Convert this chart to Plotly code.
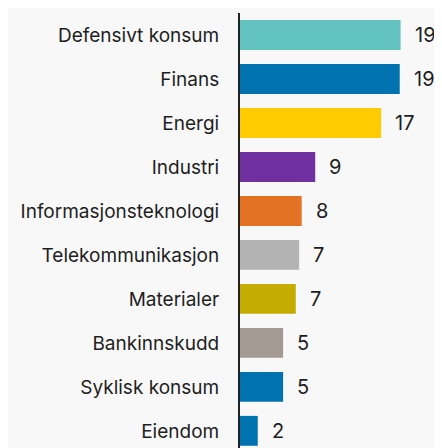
import plotly.graph_objects as go

categories = ["Defensivt konsum", "Finans", "Energi", "Industri", "Informasjonsteknologi",
              "Telekommunikasjon", "Materialer", "Bankinnskudd", "Syklisk konsum", "Eiendom"]
values = [19.0, 18.9, 16.7, 8.9, 7.3, 7.0, 6.6, 5.1, 5.1, 2.1]
value_labels = ["19", "19", "17", "9", "8", "7", "7", "5", "5", "2"]
colors = ["#63c3c1", "#0072b0", "#fecb00", "#7030a0", "#e37222",
          "#b3b3b3", "#c4ad00", "#a39a94", "#0072b0", "#0072b0"]

FONT = "Inter"
TXT = "#1e1e1e"

fig = go.Figure(go.Bar(
    x=values, y=categories, orientation="h",
    marker=dict(color=colors, line=dict(width=0)),
    hoverinfo="skip",
))

for c, v, t in zip(categories, values, value_labels):
    fig.add_annotation(x=v, y=c, text=t, showarrow=False, xanchor="left",
                       xshift=12, font=dict(family=FONT, size=20, color=TXT))

fig.update_layout(
    width=442, height=448,
    margin=dict(l=232, r=8, t=5, b=8),
    paper_bgcolor="#f8f8f8", plot_bgcolor="#f8f8f8",
    bargap=0.32, showlegend=False,
    font=dict(family=FONT, size=19, color=TXT),
)
fig.update_xaxes(range=[0, 23.9], visible=False, showgrid=False, zeroline=False)
fig.update_yaxes(range=[9.39, -0.5], showline=True, linecolor="#222222", linewidth=2,
                 showgrid=False, zeroline=False, ticks="", ticklabelstandoff=15,
                 tickfont=dict(family=FONT, size=19, color=TXT))

fig.write_html("out.html")
